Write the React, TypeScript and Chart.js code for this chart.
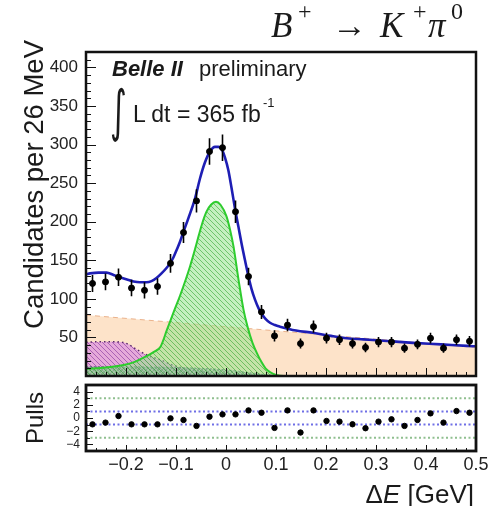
import React, { useEffect, useRef } from 'react';
import { Chart, registerables } from 'chart.js';
Chart.register(...registerables);

// ---------- data ----------
const binCenters = [-0.267, -0.241, -0.215, -0.189, -0.163, -0.137, -0.111, -0.085, -0.059, -0.033, -0.007, 0.019, 0.045, 0.071, 0.097, 0.123, 0.149, 0.175, 0.201, 0.227, 0.253, 0.279, 0.305, 0.331, 0.357, 0.383, 0.409, 0.435, 0.461, 0.487];
const counts = [120, 122, 128, 114, 111, 116, 146, 186, 227, 291, 296, 213, 129, 83, 52, 66, 42, 64, 49, 47, 42, 37, 44, 44, 36, 41, 49, 36, 47, 45];
const countErrors = [11, 11, 11.3, 10.7, 10.5, 10.8, 12.1, 13.6, 15.1, 17.1, 17.2, 14.6, 11.4, 9.1, 7.2, 8.1, 6.5, 8, 7, 6.9, 6.5, 6.1, 6.6, 6.6, 6, 6.4, 7, 6, 6.9, 6.7];
const pulls = [-0.96, -0.7, 0.3, -0.96, -0.96, -0.96, -0.05, -0.3, -1.2, 0.2, 0.55, 0.55, 1.15, 0.8, -1.5, 1.15, -2.2, 1.15, -0.45, -0.55, -0.95, -1.55, -0.55, -0.2, -1.2, -0.3, 0.7, -0.7, 1.05, 0.8];

const fitX = [-0.28, -0.272, -0.255, -0.239, -0.225, -0.212, -0.198, -0.185, -0.172, -0.159, -0.149, -0.139, -0.129, -0.119, -0.112, -0.105, -0.099, -0.092, -0.085, -0.075, -0.062, -0.052, -0.042, -0.032, -0.022, -0.015, -0.0086, -0.002, 0.0046, 0.011, 0.018, 0.025, 0.031, 0.038, 0.045, 0.051, 0.058, 0.065, 0.071, 0.079, 0.088, 0.098, 0.108, 0.14, 0.174, 0.21, 0.242, 0.275, 0.308, 0.34, 0.374, 0.43, 0.482, 0.5];
const fitY = [132, 133, 134, 134, 131, 128, 125, 122.5, 121.5, 121.5, 123, 127, 133, 140, 146, 154, 163, 174, 187, 205, 230, 256, 277, 291, 297, 297, 294, 283, 267, 244, 217, 193, 172, 150, 129, 113, 99, 88, 81, 74, 69, 66, 64, 59, 56, 52, 49, 47.5, 46, 44.5, 43, 41, 39, 38.5];

const sigX = [-0.28, -0.24, -0.2, -0.18, -0.161, -0.145, -0.131, -0.118, -0.104, -0.092, -0.08, -0.072, -0.063, -0.055, -0.047, -0.039, -0.03, -0.02, -0.011, 0.001, 0.008, 0.015, 0.025, 0.035, 0.043, 0.053, 0.063, 0.071, 0.079, 0.088, 0.1, 0.115, 0.5];
const sigY = [9, 11, 15, 19, 25, 31, 38, 60, 84, 104, 126, 142, 162, 181, 199, 213, 222, 226, 222, 207, 190, 168, 125, 86, 64, 43, 28, 18, 10, 5, 1.5, 0, 0];

const contX = [-0.28, 0.5];
const contY = [79, 37];

const peakBkgX = [-0.28, -0.24, -0.21, -0.195, -0.18, -0.164, -0.15, -0.131, -0.11, -0.084, -0.05, -0.02, 0.02, 0.06, 0.1, 0.5];
const peakBkgY = [44, 44.5, 44, 41, 35, 29, 25, 21, 15, 10, 6, 4, 2, 1, 0, 0];

const otherX = [-0.28, -0.2, -0.1, -0.05, 0, 0.04, 0.07, 0.1, 0.15, 0.5];
const otherY = [12, 12, 11, 10, 8, 5, 2.5, 1, 0, 0];

const yTicksMain = [50, 100, 150, 200, 250, 300, 350, 400];
const xTicks = [-0.2, -0.1, 0, 0.1, 0.2, 0.3, 0.4, 0.5];
const pullTicks = [-4, -2, 0, 2, 4];
const pullInner = [1, -1];
const pullOuter = [3, -3];

const X_MIN = -0.28;
const X_MAX = 0.5;

const SANS = '"Liberation Sans", Arial, Helvetica, sans-serif';
const SERIF = '"Liberation Serif", "DejaVu Serif", serif';

function pts(xs: number[], ys: number[]) {
  return xs.map((x, i) => ({ x, y: ys[i] }));
}

function hatch(bg: string, line: string, s: number, lw: number, cross: boolean) {
  const c = document.createElement('canvas');
  c.width = s;
  c.height = s;
  const g = c.getContext('2d')!;
  g.fillStyle = bg;
  g.fillRect(0, 0, s, s);
  g.strokeStyle = line;
  g.lineWidth = lw;
  g.beginPath();
  for (const k of [-s, 0, s]) {
    g.moveTo(k, 0);
    g.lineTo(k + s, s);
    if (cross) {
      g.moveTo(k + s, 0);
      g.lineTo(k, s);
    }
  }
  g.stroke();
  return g.createPattern(c, 'repeat')!;
}

const framePlugin = {
  id: 'frame',
  afterDraw(chart: any, _args: any, o: any) {
    const { ctx, chartArea: a, scales } = chart;
    const xs = scales.x;
    const ys = scales.y;
    ctx.save();
    ctx.strokeStyle = '#111';
    ctx.lineWidth = 1;
    ctx.beginPath();
    const kx0 = Math.ceil(X_MIN / o.xMinor - 1e-6);
    const kx1 = Math.floor(X_MAX / o.xMinor + 1e-6);
    for (let k = kx0; k <= kx1; k++) {
      const px = Math.round(xs.getPixelForValue(k * o.xMinor)) + 0.5;
      const len = k % o.xEvery === 0 ? o.xMajorLen : o.xMinorLen;
      ctx.moveTo(px, a.bottom);
      ctx.lineTo(px, a.bottom - len);
    }
    const ky0 = Math.ceil(ys.min / o.yMinor - 1e-6);
    const ky1 = Math.floor(ys.max / o.yMinor + 1e-6);
    for (let k = ky0; k <= ky1; k++) {
      const py = Math.round(ys.getPixelForValue(k * o.yMinor)) + 0.5;
      const len = k % o.yEvery === 0 ? o.yMajorLen : o.yMinorLen;
      ctx.moveTo(a.left, py);
      ctx.lineTo(a.left + len, py);
    }
    ctx.stroke();
    ctx.lineWidth = o.lineWidth;
    ctx.strokeRect(a.left, a.top, a.right - a.left, a.bottom - a.top);
    ctx.restore();
  },
};

const errorBarPlugin = {
  id: 'errbars',
  afterDatasetsDraw(chart: any) {
    const { ctx } = chart;
    const ys = chart.scales.y;
    chart.data.datasets.forEach((ds: any, di: number) => {
      if (!ds.errors) return;
      const meta = chart.getDatasetMeta(di);
      ctx.save();
      ctx.strokeStyle = '#000';
      ctx.lineWidth = 1.6;
      ctx.beginPath();
      meta.data.forEach((p: any, i: number) => {
        const v = ds.data[i].y;
        const e = ds.errors[i];
        ctx.moveTo(p.x, ys.getPixelForValue(v + e));
        ctx.lineTo(p.x, ys.getPixelForValue(v - e));
      });
      ctx.stroke();
      ctx.restore();
    });
  },
};

function tickLabel(v: number) {
  if (Math.abs(v) < 1e-9) return '0';
  return v < 0 ? '\u2212' + Math.abs(v).toFixed(1) : v.toFixed(1);
}

function noPad(s: any) {
  s.paddingTop = 0;
  s.paddingBottom = 0;
  s.paddingLeft = 0;
  s.paddingRight = 0;
}

function Txt(props: { x: number; base: number; size: number; fam?: string; it?: boolean; bold?: boolean; children: any }) {
  const fam = props.fam || SANS;
  const k = fam === SERIF ? 0.8375 : 0.8465;
  return (
    <div
      style={{
        position: 'absolute',
        left: props.x,
        top: props.base - k * props.size,
        fontSize: props.size,
        lineHeight: props.size + 'px',
        fontFamily: fam,
        fontStyle: props.it ? 'italic' : 'normal',
        fontWeight: props.bold ? 'bold' : 'normal',
        whiteSpace: 'nowrap',
        color: '#1a1a1a',
      }}
    >
      {props.children}
    </div>
  );
}

export default function App() {
  const mainRef = useRef<HTMLCanvasElement>(null);
  const pullRef = useRef<HTMLCanvasElement>(null);

  useEffect(() => {
    const greenPat = hatch('rgba(150,228,140,0.55)', 'rgba(40,160,40,0.55)', 5, 1, false);
    const purplePat = hatch('rgba(215,130,230,0.6)', 'rgba(120,40,150,0.55)', 5, 1, false);
    const grayPat = hatch('rgba(140,150,170,0.55)', 'rgba(60,70,95,0.7)', 4, 0.8, true);

    const main = new Chart(mainRef.current!, {
      type: 'line',
      data: {
        datasets: [
          {
            data: pts(binCenters, counts),
            errors: countErrors,
            showLine: false,
            pointRadius: 3,
            pointBackgroundColor: '#000',
            pointBorderColor: '#000',
            order: 0,
          } as any,
          {
            data: pts(fitX, fitY),
            borderColor: '#1e1eb4',
            borderWidth: 2.6,
            pointRadius: 0,
            fill: false,
            cubicInterpolationMode: 'monotone',
            order: 1,
          },
          {
            data: pts(sigX, sigY),
            borderColor: '#2ecc2e',
            borderWidth: 2,
            backgroundColor: greenPat,
            pointRadius: 0,
            fill: 'origin',
            cubicInterpolationMode: 'monotone',
            order: 2,
          },
          {
            data: pts(otherX, otherY),
            borderColor: 'rgba(80,90,115,0.8)',
            borderWidth: 1,
            borderDash: [2, 2],
            backgroundColor: grayPat,
            pointRadius: 0,
            fill: 'origin',
            cubicInterpolationMode: 'monotone',
            order: 3,
          },
          {
            data: pts(peakBkgX, peakBkgY),
            borderColor: '#5a2a6a',
            borderWidth: 1.5,
            borderDash: [1.5, 3],
            backgroundColor: purplePat,
            pointRadius: 0,
            fill: 'origin',
            cubicInterpolationMode: 'monotone',
            order: 4,
          },
          {
            data: pts(contX, contY),
            borderColor: '#eab28c',
            borderWidth: 1,
            borderDash: [5, 4],
            backgroundColor: '#fde3c9',
            pointRadius: 0,
            fill: 'origin',
            order: 5,
          },
        ],
      },
      options: {
        animation: false,
        responsive: false,
        maintainAspectRatio: false,
        layout: { padding: { left: 0, right: 19, top: 12, bottom: 9 } },
        plugins: {
          legend: { display: false },
          tooltip: { enabled: false },
          frame: { lineWidth: 2.5, xMinor: 0.02, xEvery: 5, xMajorLen: 8, xMinorLen: 4, yMinor: 10, yEvery: 5, yMajorLen: 10, yMinorLen: 5 },
        } as any,
        scales: {
          x: { type: 'linear', min: X_MIN, max: X_MAX, display: false },
          y: {
            type: 'linear',
            min: 0,
            max: 420,
            afterFit: (s: any) => {
              s.width = 86;
              noPad(s);
            },
            afterBuildTicks: (s: any) => {
              s.ticks = yTicksMain.map((v) => ({ value: v }));
            },
            grid: { display: false, drawTicks: false },
            border: { display: false },
            ticks: { padding: 8, autoSkip: false, color: '#222', font: { family: SANS, size: 17 } },
          },
        },
      },
      plugins: [framePlugin, errorBarPlugin],
    } as any);

    const lineDs = (y: number, color: string) => ({
      data: [
        { x: X_MIN, y },
        { x: X_MAX, y },
      ],
      borderColor: color,
      borderWidth: 2,
      borderDash: [2, 2.5],
      pointRadius: 0,
      fill: false,
      order: 2,
    });

    const pull = new Chart(pullRef.current!, {
      type: 'line',
      data: {
        datasets: [
          {
            data: pts(binCenters, pulls),
            showLine: false,
            pointRadius: 2.7,
            pointBackgroundColor: '#000',
            pointBorderColor: '#000',
            order: 0,
          },
          ...pullInner.map((y) => lineDs(y, '#6f6fe6')),
          ...pullOuter.map((y) => lineDs(y, '#8fbf8f')),
        ],
      },
      options: {
        animation: false,
        responsive: false,
        maintainAspectRatio: false,
        layout: { padding: { left: 0, right: 19, top: 5, bottom: 0 } },
        plugins: {
          legend: { display: false },
          tooltip: { enabled: false },
          frame: { lineWidth: 2.8, xMinor: 0.02, xEvery: 5, xMajorLen: 6, xMinorLen: 3, yMinor: 1, yEvery: 2, yMajorLen: 7, yMinorLen: 4 },
        } as any,
        scales: {
          x: {
            type: 'linear',
            min: X_MIN,
            max: X_MAX,
            afterFit: (s: any) => {
              s.height = 29;
              noPad(s);
            },
            afterBuildTicks: (s: any) => {
              s.ticks = xTicks.map((v) => ({ value: v }));
            },
            grid: { display: false, drawTicks: false },
            border: { display: false },
            ticks: { padding: 3, autoSkip: false, maxRotation: 0, color: '#222', font: { family: SANS, size: 18 }, callback: (v: any) => tickLabel(Number(v)) },
          },
          y: {
            type: 'linear',
            min: -5,
            max: 5,
            afterFit: (s: any) => {
              s.width = 86;
              noPad(s);
            },
            afterBuildTicks: (s: any) => {
              s.ticks = pullTicks.map((v) => ({ value: v }));
            },
            grid: { display: false, drawTicks: false },
            border: { display: false },
            ticks: { padding: 6, autoSkip: false, color: '#222', font: { family: SANS, size: 12 }, callback: (v: any) => (Number(v) < 0 ? '\u2212' + Math.abs(Number(v)) : String(v)) },
          },
        },
      },
      plugins: [framePlugin],
    } as any);

    return () => {
      main.destroy();
      pull.destroy();
    };
  }, []);

  return (
    <div style={{ position: 'absolute', left: 0, top: 0, width: 495, height: 506, background: '#fff', overflow: 'hidden' }}>
      <canvas ref={mainRef} width={495} height={345} style={{ position: 'absolute', left: 0, top: 40, width: 495, height: 345 }} />
      <canvas ref={pullRef} width={495} height={100} style={{ position: 'absolute', left: 0, top: 380, width: 495, height: 100 }} />

      {/* title B+ -> K+ pi0 */}
      <Txt x={271} base={37} size={35} fam={SERIF} it>B</Txt>
      <Txt x={298} base={19} size={24} fam={SERIF}>+</Txt>
      <Txt x={332} base={37} size={35} fam={SERIF}>→</Txt>
      <Txt x={380} base={37} size={35} fam={SERIF} it>K</Txt>
      <Txt x={413} base={19} size={24} fam={SERIF}>+</Txt>
      <Txt x={428} base={37} size={35} fam={SERIF} it>π</Txt>
      <Txt x={451} base={19} size={24} fam={SERIF}>0</Txt>

      {/* Belle II preliminary */}
      <Txt x={112} base={77} size={22} it bold>Belle II</Txt>
      <Txt x={199} base={77} size={22}>preliminary</Txt>
      <div style={{ position: 'absolute', left: 110, top: 82, fontSize: 40, lineHeight: '40px', fontFamily: '"DejaVu Sans", sans-serif', transform: 'scale(0.8, 1.4)', transformOrigin: 'left top', color: '#1a1a1a' }}>∫</div>
      <Txt x={133} base={122} size={23}>L dt = 365 fb</Txt>
      <Txt x={263} base={107} size={13}>-1</Txt>

      {/* y titles */}
      <div style={{ position: 'absolute', left: 43.5 - 0.8465 * 27.5, top: 40 + 320, width: 320, textAlign: 'right', fontSize: 27.5, lineHeight: '27.5px', fontFamily: SANS, whiteSpace: 'nowrap', transformOrigin: 'left top', transform: 'rotate(-90deg)', color: '#1a1a1a' }}>
        Candidates per 26 MeV
      </div>
      <div style={{ position: 'absolute', left: 43.5 - 0.8465 * 24, top: 392 + 100, width: 100, textAlign: 'right', fontSize: 24, lineHeight: '24px', fontFamily: SANS, whiteSpace: 'nowrap', transformOrigin: 'left top', transform: 'rotate(-90deg)', color: '#1a1a1a' }}>
        Pulls
      </div>

      {/* x title */}
      <div style={{ position: 'absolute', right: 21, top: 503 - 0.8465 * 26, fontSize: 26, lineHeight: '26px', fontFamily: SANS, whiteSpace: 'nowrap', color: '#1a1a1a' }}>
        Δ<i>E</i> [GeV]
      </div>
    </div>
  );
}
